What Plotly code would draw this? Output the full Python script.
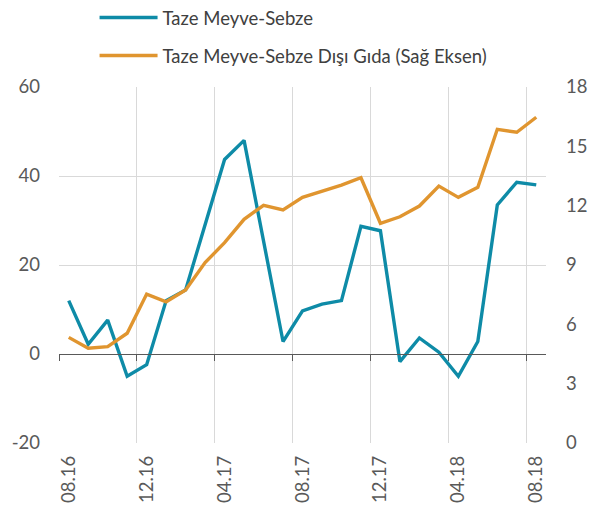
import plotly.graph_objects as go

months = ["08.16","09.16","10.16","11.16","12.16","01.17","02.17","03.17","04.17","05.17",
          "06.17","07.17","08.17","09.17","10.17","11.17","12.17","01.18","02.18","03.18",
          "04.18","05.18","06.18","07.18","08.18"]
taze = [12.0, 2.2, 7.6, -5.0, -2.4, 12.0, 14.4, 29.0, 43.7, 48.0,
        25.5, 2.8, 9.7, 11.2, 12.0, 28.7, 27.7, -1.7, 3.6, 0.4,
        -5.0, 2.8, 33.5, 38.6, 38.0]
disi = [5.34, 4.79, 4.87, 5.55, 7.53, 7.14, 7.74, 9.12, 10.13, 11.31,
        12.02, 11.78, 12.42, 12.71, 13.04, 13.41, 11.11, 11.44, 11.98, 12.99,
        12.42, 12.93, 15.86, 15.71, 16.47]
label_idx = [0, 4, 8, 12, 16, 20, 24]
left_ticks = [-20, 0, 20, 40, 60]
left_text = ["-20", "0", "20", "40", "60"]
right_ticks = [0, 3, 6, 9, 12, 15, 18]

n = len(months)
xs = list(range(n))
bounds = [i - 0.5 for i in label_idx]

BLUE = "#0E8BA7"
ORANGE = "#E0952F"
TXT = "#595959"
GRID = "#D9D9D9"
FONT = "Lato"
FS = 18.5

fig = go.Figure()
fig.add_trace(go.Scatter(x=xs, y=taze, mode="lines", name="Taze Meyve-Sebze",
                         line=dict(color=BLUE, width=3.4), legend="legend",
                         xaxis="x", yaxis="y"))
fig.add_trace(go.Scatter(x=xs, y=disi, mode="lines",
                         name="Taze Meyve-Sebze Dışı Gıda (Sağ Eksen)",
                         line=dict(color=ORANGE, width=3.4), legend="legend2",
                         xaxis="x2", yaxis="y2"))

xr = [-0.5, n - 0.5]
leg_common = dict(xanchor="left", yanchor="middle", orientation="v", itemwidth=58,
                  font=dict(size=FS, color="#404040", family=FONT),
                  bgcolor="rgba(0,0,0,0)")
fig.update_layout(
    width=596, height=504,
    margin=dict(l=51, r=58, t=79, b=69, autoexpand=False),
    plot_bgcolor="white", paper_bgcolor="white",
    font=dict(family=FONT, color=TXT, size=FS),
    showlegend=True,
    legend=dict(x=0.073, y=1.194, **leg_common),
    legend2=dict(x=0.073, y=1.087, **leg_common),
    xaxis=dict(range=xr, tickmode="array", tickvals=label_idx,
               ticktext=[months[i] for i in label_idx], tickangle=-90,
               showgrid=False, showline=False, zeroline=False, ticks="",
               automargin=False, ticklabelstandoff=8,
               tickfont=dict(size=FS, color=TXT)),
    xaxis2=dict(range=xr, overlaying="x", anchor="free", position=0.25,
                side="bottom", showgrid=True, gridcolor=GRID, gridwidth=1,
                zeroline=False, showline=True, automargin=False,
                linecolor="#595959", linewidth=1, ticks="outside", ticklen=6,
                tickcolor="#595959", tickmode="array", tickvals=bounds,
                showticklabels=False),
    yaxis=dict(range=[-20, 60], tickmode="array", tickvals=left_ticks,
               ticktext=left_text,
               showgrid=True, gridcolor=GRID, gridwidth=1, zeroline=False,
               showline=False, ticks="", ticklabelstandoff=18, automargin=False,
               tickfont=dict(size=FS, color=TXT)),
    yaxis2=dict(range=[0, 18], tickmode="array", tickvals=right_ticks,
                overlaying="y", side="right", anchor="x", showgrid=False,
                zeroline=False, showline=False, ticks="", ticklabelstandoff=19,
                automargin=False, tickfont=dict(size=FS, color=TXT)),
)

fig.write_html("out.html")
